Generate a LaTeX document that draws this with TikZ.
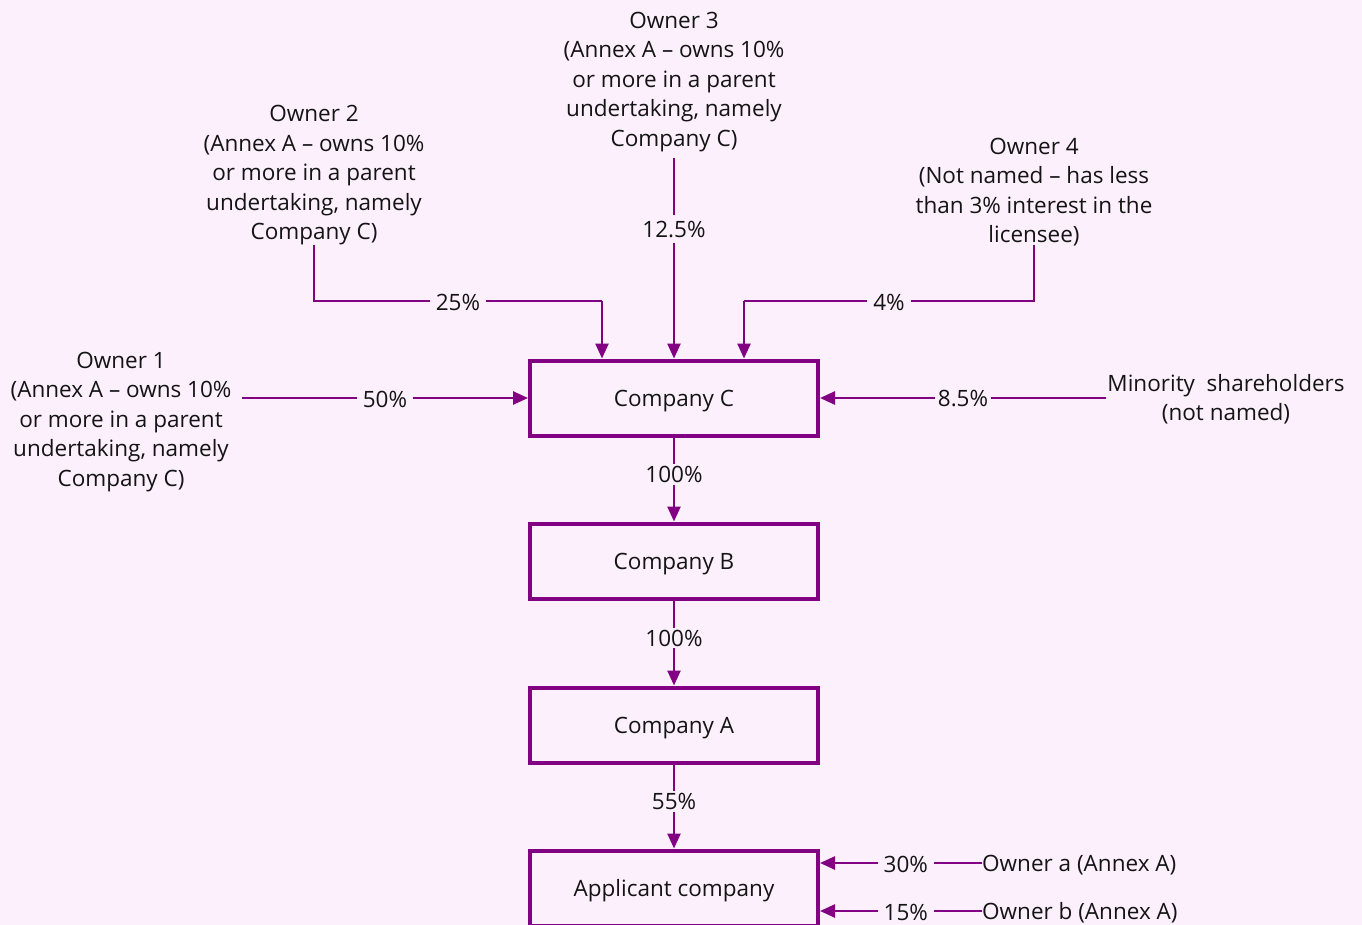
\documentclass[tikz,border=0pt]{standalone}
\usepackage{fontspec}
\setmainfont{Open Sans}
\usetikzlibrary{arrows.meta}
\definecolor{bg}{HTML}{FCF0FC}
\definecolor{pur}{HTML}{820082}
\definecolor{txt}{HTML}{141414}
\tikzset{
  fnt/.style={font=\fontsize{22.5}{29.5}\selectfont, text=txt},
  box/.style={draw=pur, line width=4pt, minimum width=288pt, minimum height=75pt, inner sep=0pt, fnt, text height=22pt, text depth=5pt},
  lbl/.style={fill=bg, inner sep=6pt, fnt, yshift=-1pt},
  txtn/.style={align=center, inner sep=0pt, fnt},
  conn/.style={draw=pur, line width=2.5pt},
  arr/.style={conn, -{Triangle[length=15pt,width=13pt]}},
}
\begin{document}
\begin{tikzpicture}[x=1pt,y=-1pt]
\fill[bg] (0,0) rectangle (1362,925);
\useasboundingbox (0,0) rectangle (1362,925);
\begin{scope}
\clip (0,0) rectangle (1362,925);
% boxes
\node[box] (cc) at (674,398) {Company C};
\node[box] (cb) at (674,561) {Company B};
\node[box] (ca) at (674,725) {Company A};
\node[box, text height=21pt] (ap) at (674,888) {Applicant company};
% texts
\node[txtn] (o3) at (674,82) {Owner 3\\(Annex A – owns 10\%\\or more in a parent\\undertaking, namely\\Company C)};
\node[txtn] (o2) at (314,175.5) {Owner 2\\(Annex A – owns 10\%\\or more in a parent\\undertaking, namely\\Company C)};
\node[txtn] (o4) at (1034,192) {Owner 4\\(Not named – has less\\than 3\% interest in the\\licensee)};
\node[txtn] (o1) at (121,422) {Owner 1\\(Annex A – owns 10\%\\or more in a parent\\undertaking, namely\\Company C)};
\node[txtn] (ms) at (1226,399) {Minority\ \ shareholders\\(not named)};
\node[txtn, anchor=west] (oa) at (982,865) {Owner a (Annex A)};
\node[txtn, anchor=west] (ob) at (982,913) {Owner b (Annex A)};
% coordinates
\coordinate (o3s) at (674,158);
\coordinate (o2s) at (314,245);
\coordinate (o2k) at (314,301);
\coordinate (o2e) at (602,301);
\coordinate (o4s) at (1034,245);
\coordinate (o4k) at (1034,301);
\coordinate (o4e) at (744,301);
\coordinate (o1e) at (242,398);
\coordinate (mse) at (1106,398);
\coordinate (oae) at (982,863);
\coordinate (obe) at (982,911);
% connectors
\draw[arr] (o3s) -- (cc.north) node[lbl, pos=0.35] {12.5\%};
\draw[conn] (o2s) -- (o2k) -- (o2e) node[lbl, midway] {25\%};
\draw[arr] (o2e) -- (cc.north -| o2e);
\draw[conn] (o4s) -- (o4k) -- (o4e) node[lbl, midway] {4\%};
\draw[arr] (o4e) -- (cc.north -| o4e);
\draw[arr] (o1e) -- (cc.west) node[lbl, midway] {50\%};
\draw[arr] (mse) -- (cc.east) node[lbl, midway, inner xsep=3pt] {8.5\%};
\draw[arr] (cc.south) -- (cb.north) node[lbl, pos=0.43, inner ysep=2pt] {100\%};
\draw[arr] (cb.south) -- (ca.north) node[lbl, pos=0.43, inner ysep=2pt] {100\%};
\draw[arr] (ca.south) -- (ap.north) node[lbl, pos=0.43, inner ysep=2pt] {55\%};
\draw[arr] (oae) -- (oae -| ap.east) node[lbl, pos=0.47] {30\%};
\draw[arr] (obe) -- (obe -| ap.east) node[lbl, pos=0.47] {15\%};
\end{scope}
\end{tikzpicture}
\end{document}
